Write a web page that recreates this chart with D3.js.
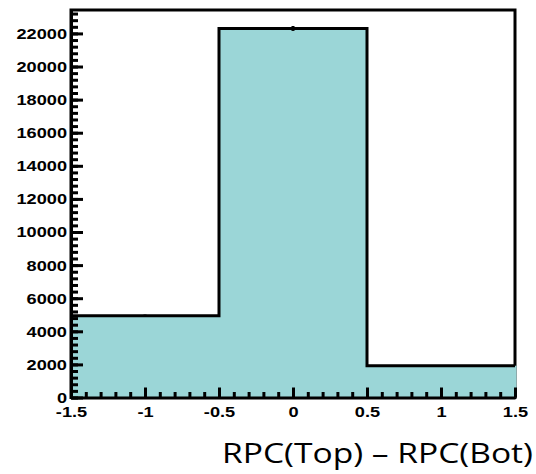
<!DOCTYPE html>
<html><head><meta charset="utf-8">
<script src="https://cdn.jsdelivr.net/npm/d3@7"></script>
<style>body{margin:0;background:#fff}svg{display:block}</style>
</head><body>
<svg id="c" width="536" height="474"></svg>
<script>
const binEdges = [-1.5, -0.5, 0.5, 1.5];
const binCounts = [4940, 22300, 1920];
const xTickValues = [-1.5, -1, -0.5, 0, 0.5, 1, 1.5];
const xTickLabels = ["-1.5", "-1", "-0.5", "0", "0.5", "1", "1.5"];
const yTickValues = [0, 2000, 4000, 6000, 8000, 10000, 12000, 14000, 16000, 18000, 20000, 22000];
const xTitle = "RPC(Top) \u2013 RPC(Bot)";

const svg = d3.select("#c");
const L = 71, R = 515, T = 10, B = 397.5;
const x = d3.scaleLinear().domain([-1.5, 1.5]).range([L, R]);
const y = d3.scaleLinear().domain([0, d3.max(binCounts) * 1.05]).range([B, T]);
const fill = "#9bd6d7";
const SX = 1.3;

// frame
svg.append("rect").attr("x", L).attr("y", T).attr("width", R - L).attr("height", B - T)
  .attr("fill", "none").attr("stroke", "#000").attr("stroke-width", 3);

// histogram fill
const bins = binCounts.map((v, i) => ({x0: binEdges[i], x1: binEdges[i + 1], v}));
svg.selectAll("rect.bin").data(bins).join("rect").attr("class", "bin")
  .attr("x", d => x(d.x0)).attr("width", d => x(d.x1) - x(d.x0) + (d.x1 === 1.5 ? 1.5 : 0))
  .attr("y", d => y(d.v)).attr("height", d => B - y(d.v))
  .attr("fill", fill);

// histogram outline
let pts = [];
bins.forEach(d => { pts.push([x(d.x0), y(d.v)]); pts.push([x(d.x1), y(d.v)]); });
svg.append("path").attr("d", d3.line()(pts))
  .attr("fill", "none").attr("stroke", "#000").attr("stroke-width", 3);

// error bars
svg.selectAll("line.err").data(bins).join("line").attr("class", "err")
  .attr("x1", d => x((d.x0 + d.x1) / 2)).attr("x2", d => x((d.x0 + d.x1) / 2))
  .attr("y1", d => y(d.v - Math.sqrt(d.v))).attr("y2", d => y(d.v + Math.sqrt(d.v)))
  .attr("stroke", "#000").attr("stroke-width", 3);

// minor ticks
const xMinor = d3.range(-1.5, 1.5001, 0.1);
const yMinor = d3.range(0, y.domain()[1], 400);
svg.append("g").attr("transform", `translate(0,${B})`)
  .call(d3.axisBottom(x).tickValues(xMinor).tickSize(-5.5).tickFormat(""))
  .call(g => g.select(".domain").remove())
  .selectAll("line").attr("stroke", "#000").attr("stroke-width", 3);
svg.append("g").attr("transform", `translate(${L},0)`)
  .call(d3.axisLeft(y).tickValues(yMinor).tickSize(-7).tickFormat(""))
  .call(g => g.select(".domain").remove())
  .selectAll("line").attr("stroke", "#000").attr("stroke-width", 3);

// major x axis
const gx = svg.append("g").attr("transform", `translate(0,${B})`)
  .call(d3.axisBottom(x).tickValues(xTickValues).tickSizeInner(-10).tickSizeOuter(0)
    .tickFormat((d, i) => xTickLabels[i]));
gx.select(".domain").attr("stroke", "#000").attr("stroke-width", 3);
gx.selectAll(".tick line").attr("stroke", "#000").attr("stroke-width", 3);
gx.selectAll(".tick text").attr("y", 0).attr("dy", 0)
  .attr("transform", `translate(0,19) scale(${SX},1)`)
  .attr("font-family", "Liberation Sans, Arial, sans-serif").attr("font-weight", "bold")
  .attr("font-size", 14).attr("fill", "#000");

// major y axis
const gy = svg.append("g").attr("transform", `translate(${L},0)`)
  .call(d3.axisLeft(y).tickValues(yTickValues).tickSizeInner(-12).tickSizeOuter(0)
    .tickFormat(d3.format("d")));
gy.select(".domain").attr("stroke", "#000").attr("stroke-width", 3);
gy.selectAll(".tick line").attr("stroke", "#000").attr("stroke-width", 3);
gy.selectAll(".tick text").attr("x", 0).attr("dy", "0.35em")
  .attr("transform", `translate(-4,0) scale(${SX},1)`)
  .attr("font-family", "Liberation Sans, Arial, sans-serif").attr("font-weight", "bold")
  .attr("font-size", 14).attr("fill", "#000");

// x title
svg.append("text").attr("x", 533).attr("y", 462.5).attr("text-anchor", "end")
  .attr("font-family", "'Open Sans', Lato, sans-serif").attr("font-size", 28)
  .attr("textLength", 311).attr("lengthAdjust", "spacingAndGlyphs")
  .attr("fill", "#000").text(xTitle);
</script>
</body></html>
